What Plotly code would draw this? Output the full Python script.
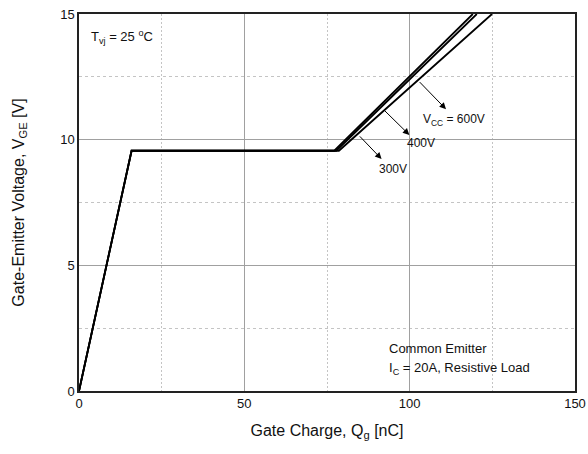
import plotly.graph_objects as go

# Data (gate charge nC, gate-emitter voltage V)
q_300 = [0, 15.9, 77.2, 119.1]
v_300 = [0, 9.56, 9.56, 15.0]
q_400 = [0, 15.9, 77.8, 120.3]
v_400 = [0, 9.56, 9.56, 15.0]
q_600 = [0, 15.9, 78.6, 124.9]
v_600 = [0, 9.56, 9.56, 15.0]

x_ticks = [0, 50, 100, 150]
y_ticks = [0, 5, 10, 15]

FONT = "Liberation Sans, Arial, sans-serif"

fig = go.Figure()
for q, v, name in [(q_300, v_300, "300V"), (q_400, v_400, "400V"), (q_600, v_600, "600V")]:
    fig.add_trace(go.Scatter(x=q, y=v, mode="lines", name=name,
                             line=dict(color="black", width=1.8),
                             showlegend=False, hoverinfo="skip"))

axis_common = dict(
    showline=True, linecolor="#222", linewidth=1.5, mirror=True,
    showgrid=True, gridcolor="#a0a0a0", gridwidth=1,
    zeroline=False, ticks="", automargin=False,
    tickfont=dict(family=FONT, size=13, color="#111"),
)

fig.update_xaxes(range=[0, 150], tickvals=x_ticks,
                 minor=dict(dtick=25, showgrid=True, gridcolor="#c4c4c4", griddash="2px,2px", gridwidth=1),
                 title=dict(text="Gate Charge, Q<sub>g</sub> [nC]", font=dict(family=FONT, size=16, color="#111"), standoff=14),
                 **axis_common)
fig.update_yaxes(range=[0, 15], tickvals=y_ticks,
                 minor=dict(dtick=2.5, showgrid=True, gridcolor="#c4c4c4", griddash="3px,3px", gridwidth=1),
                 title=dict(text="Gate-Emitter Voltage, V<sub>GE</sub> [V]", font=dict(family=FONT, size=16, color="#111"), standoff=32),
                 **axis_common)

ann = []
# Text labels
ann.append(dict(x=0.02, y=0.94, xref="paper", yref="paper", xanchor="left", yanchor="middle",
                text="T<sub>vj</sub> = 25 <sup>o</sup>C", showarrow=False,
                font=dict(family=FONT, size=13, color="#111")))
ann.append(dict(x=0.62, y=0.113, xref="paper", yref="paper", xanchor="left", yanchor="middle",
                text="Common Emitter", showarrow=False, font=dict(family=FONT, size=13, color="#111")))
ann.append(dict(x=0.62, y=0.06, xref="paper", yref="paper", xanchor="left", yanchor="middle",
                text="I<sub>C</sub> = 20A, Resistive Load", showarrow=False, font=dict(family=FONT, size=13, color="#111")))
# Arrows (head x,y ; tail ax,ay)
arrows = [((91.5, 9.23), (84.5, 10.19)), ((99.9, 10.19), (92.0, 11.21)), ((111.0, 11.21), (102.6, 12.35))]
for (hx, hy), (tx, ty) in arrows:
    ann.append(dict(x=hx, y=hy, ax=tx, ay=ty, xref="x", yref="y", axref="x", ayref="y",
                    text="", showarrow=True, arrowhead=2, arrowsize=1.3, arrowwidth=1,
                    arrowcolor="black", standoff=0, startstandoff=0))
ann.append(dict(x=95.0, y=8.85, xref="x", yref="y", text="300V", showarrow=False,
                font=dict(family=FONT, size=12, color="#111")))
ann.append(dict(x=103.4, y=9.85, xref="x", yref="y", text="400V", showarrow=False,
                font=dict(family=FONT, size=12, color="#111")))
ann.append(dict(x=103.4, y=10.78, xref="x", yref="y", xanchor="left", text="V<sub>CC</sub> = 600V", showarrow=False,
                font=dict(family=FONT, size=12, color="#111")))

fig.update_layout(
    width=588, height=454,
    margin=dict(l=79, r=13, t=14, b=63),
    paper_bgcolor="white", plot_bgcolor="white",
    annotations=ann,
    font=dict(family=FONT),
)

fig.write_html("out.html", config={"displayModeBar": False},
               post_script="document.body.style.margin='0';document.body.style.padding='0';")
